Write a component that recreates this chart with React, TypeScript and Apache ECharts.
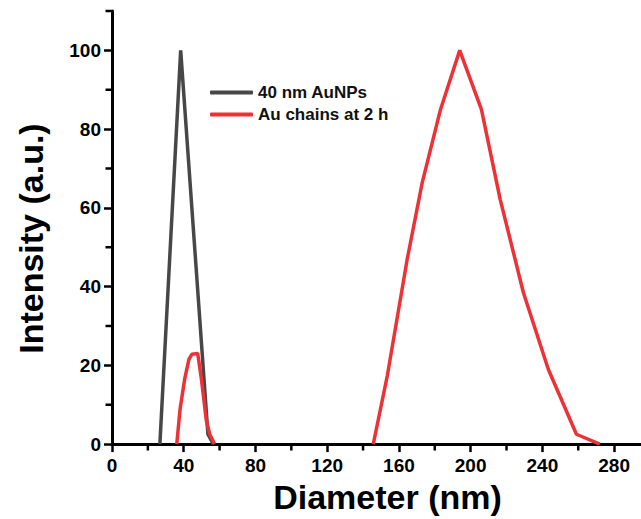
import React, { useEffect, useRef } from "react";
import * as echarts from "echarts";

// Particle size distributions (intensity-weighted)
const diameterAuNPs = [26.7, 38.3, 53.5, 56.5];
const intensityAuNPs = [0, 100, 2.5, 0];

const diameterChains = [
  36.1, 38.0, 40.6, 42.9, 44.5, 47.8, 49.8, 52.6, 54.5, 57.2,
  100,
  145.7, 153.5, 164.6, 173.0, 183.2, 193.9, 206.0, 216.5, 229.4, 243.3, 259.0, 272.0,
];
const intensityChains: (number | null)[] = [
  0, 9, 16.7, 21.5, 22.8, 23, 16.7, 6, 2.5, 0,
  null,
  0, 17.3, 46.9, 66.4, 85, 100, 85, 62.1, 38.5, 19, 2.5, 0,
];

const seriesNames = ["40 nm AuNPs", "Au chains at 2 h"];

const xMinorTicks = [20, 60, 100, 140, 180, 220, 260];
const yMinorTicks = [10, 30, 50, 70, 90, 110];

const FONT = 'Arial, "Liberation Sans", Helvetica, sans-serif';

const pairs = (xs: number[], ys: (number | null)[]) =>
  xs.map((x, i) => [x, ys[i] === null ? "-" : ys[i]]);

// short outward marks for the x minor ticks, as broken line segments below y = 0
const xMinorSegments: any[] = [];
xMinorTicks.forEach((v) => {
  xMinorSegments.push([v, 0], [v, -1.6], "-");
});

export default function App() {
  const ref = useRef<HTMLDivElement>(null);

  useEffect(() => {
    if (!ref.current) return;
    const chart = echarts.init(ref.current, null, { renderer: "svg" });

    const labelStyle = { fontFamily: FONT, fontWeight: "bold", fontSize: 19, color: "#000" };
    const nameStyle = { fontFamily: FONT, fontWeight: "bold", fontSize: 34, color: "#000" };
    const tickLine = { color: "#000", width: 2.5 };

    chart.setOption({
      animation: false,
      grid: { left: 112, right: -2, top: 11, bottom: 74 },
      legend: {
        left: 210,
        top: 84,
        padding: 0,
        orient: "vertical",
        itemWidth: 43,
        itemHeight: 4,
        itemGap: 5,
        icon: "roundRect",
        data: seriesNames,
        textStyle: { fontFamily: FONT, fontWeight: "bold", fontSize: 17, color: "#111" },
      },
      xAxis: {
        type: "value",
        min: 0,
        max: 295,
        interval: 40,
        axisLine: { show: true, lineStyle: { color: "#000", width: 3 } },
        splitLine: { show: false },
        axisTick: { show: true, length: 8, lineStyle: tickLine },
        axisLabel: { ...labelStyle, showMaxLabel: false, margin: 12 },
        name: "Diameter (nm)",
        nameLocation: "middle",
        nameGap: 34,
        nameTextStyle: { ...nameStyle, padding: [0, 0, 0, 22] },
      },
      yAxis: {
        type: "value",
        min: 0,
        max: 110,
        interval: 20,
        axisLine: { show: true, lineStyle: { color: "#000", width: 3 } },
        splitLine: { show: false },
        axisTick: { show: true, length: 8, lineStyle: tickLine },
        axisLabel: { ...labelStyle, showMaxLabel: false, margin: 11 },
        name: "Intensity (a.u.)",
        nameLocation: "middle",
        nameGap: 64,
        nameTextStyle: { ...nameStyle, padding: [0, 22, 0, 0] },
      },
      series: [
        {
          name: seriesNames[0],
          type: "line",
          data: pairs(diameterAuNPs, intensityAuNPs),
          symbol: "none",
          color: "#474747",
          lineStyle: { color: "#474747", width: 3.5 },
          z: 3,
        },
        {
          name: seriesNames[1],
          type: "line",
          data: pairs(diameterChains, intensityChains),
          connectNulls: false,
          symbol: "none",
          color: "#ec3237",
          lineStyle: { color: "#ec3237", width: 3.5 },
          z: 4,
        },
        {
          type: "line",
          data: xMinorSegments,
          clip: false,
          silent: true,
          symbol: "none",
          connectNulls: false,
          lineStyle: { color: "#000", width: 2.5 },
          z: 10,
        },
        {
          type: "custom",
          coordinateSystem: "cartesian2d",
          silent: true,
          clip: false,
          z: 10,
          data: yMinorTicks.map((v) => [0, v]),
          renderItem: (_params: any, api: any) => {
            const p = api.coord([api.value(0), api.value(1)]);
            return {
              type: "rect",
              shape: { x: p[0] - 6.5, y: p[1] - 1.25, width: 6.5, height: 2.5 },
              style: { fill: "#000" },
            };
          },
        },
      ],
    });

    return () => chart.dispose();
  }, []);

  return (
    <div
      ref={ref}
      style={{ position: "fixed", left: 0, top: 0, width: 641, height: 519, background: "#fff" }}
    />
  );
}
